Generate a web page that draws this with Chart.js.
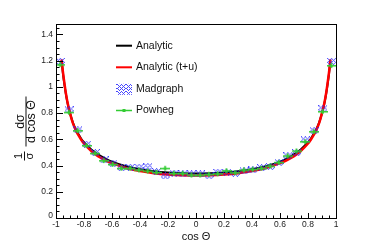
<!DOCTYPE html>
<html><head><meta charset="utf-8">
<script src="https://cdn.jsdelivr.net/npm/chart.js@4/dist/chart.umd.min.js"></script>
<style>html,body{margin:0;padding:0;background:#fff}</style>
</head><body>
<canvas id="c" width="374" height="243"></canvas>
<script>
// bin centres of the 32 histogram bins in cos(theta)
const binCenters = [-0.96875, -0.90625, -0.84375, -0.78125, -0.71875, -0.65625, -0.59375, -0.53125,
  -0.46875, -0.40625, -0.34375, -0.28125, -0.21875, -0.15625, -0.09375, -0.03125,
  0.03125, 0.09375, 0.15625, 0.21875, 0.28125, 0.34375, 0.40625, 0.46875,
  0.53125, 0.59375, 0.65625, 0.71875, 0.78125, 0.84375, 0.90625, 0.96875];
const madgraph = [1.195, 0.825, 0.672, 0.563, 0.499, 0.443, 0.418, 0.384, 0.387, 0.387, 0.392, 0.354, 0.321, 0.341, 0.336, 0.336,
  0.336, 0.323, 0.349, 0.349, 0.341, 0.359, 0.367, 0.384, 0.392, 0.423, 0.474, 0.499, 0.596, 0.667, 0.833, 1.195];
const powheg = [1.17, 0.807, 0.667, 0.553, 0.494, 0.438, 0.41, 0.38, 0.38, 0.367, 0.359, 0.349, 0.38, 0.341, 0.341, 0.328,
  0.328, 0.334, 0.338, 0.361, 0.346, 0.367, 0.372, 0.38, 0.397, 0.425, 0.474, 0.512, 0.583, 0.659, 0.812, 1.163];

// analytic curves
const curveX = [-0.96, -0.95, -0.94, -0.93, -0.92, -0.91, -0.90, -0.88, -0.86, -0.84, -0.82, -0.80, -0.75, -0.70, -0.65, -0.60, -0.50, -0.40, -0.30, -0.20, -0.10,
  0, 0.10, 0.20, 0.30, 0.40, 0.50, 0.60, 0.65, 0.70, 0.75, 0.80, 0.82, 0.84, 0.86, 0.88, 0.90, 0.91, 0.92, 0.93, 0.94, 0.95, 0.96];
const analytic = [1.20, 1.10, 1.02, 0.95, 0.89, 0.84, 0.80, 0.73, 0.68, 0.64, 0.605, 0.578, 0.525, 0.485, 0.455, 0.43, 0.395, 0.372, 0.357, 0.347, 0.341,
  0.339, 0.341, 0.347, 0.357, 0.372, 0.395, 0.43, 0.455, 0.485, 0.525, 0.578, 0.605, 0.64, 0.68, 0.73, 0.80, 0.84, 0.89, 0.95, 1.02, 1.10, 1.20];
const analyticTU = [1.21, 1.11, 1.03, 0.955, 0.895, 0.845, 0.80, 0.725, 0.672, 0.632, 0.597, 0.568, 0.513, 0.472, 0.442, 0.418, 0.382, 0.358, 0.342, 0.332, 0.326,
  0.324, 0.326, 0.332, 0.342, 0.358, 0.382, 0.418, 0.442, 0.472, 0.513, 0.568, 0.597, 0.632, 0.672, 0.725, 0.80, 0.845, 0.895, 0.955, 1.03, 1.11, 1.21];

const xTicks = [-1, -0.8, -0.6, -0.4, -0.2, 0, 0.2, 0.4, 0.6, 0.8, 1];
const xTickLabels = ['-1', '-0.8', '-0.6', '-0.4', '-0.2', '0', '0.2', '0.4', '0.6', '0.8', '1'];
const yTicks = [0, 0.2, 0.4, 0.6, 0.8, 1, 1.2, 1.4];
const yTickLabels = ['0', '0.2', '0.4', '0.6', '0.8', '1', '1.2', '1.4'];

const FONT = '"Liberation Sans", Arial, Helvetica, sans-serif';
const BLUE = '#0000ff';
const GREEN = '#33cc33';

function pts(xs, ys) { return xs.map((x, i) => ({ x: x, y: ys[i] })); }

// crosshatch marker for the Madgraph boxes
function hatchCanvas(w, h) {
  const cv = document.createElement('canvas');
  cv.width = w; cv.height = h;
  const g = cv.getContext('2d');
  g.fillStyle = 'rgba(40,40,255,0.85)';
  for (let y = 0; y < h; y++) {
    for (let x = 0; x < w; x++) {
      if ((x + y) % 4 === 0 || ((x - y) % 4 + 4) % 4 === 0) g.fillRect(x, y, 1, 1);
    }
  }
  return cv;
}

// horizontal error bar + small marker for Powheg
function powhegCanvas() {
  const cv = document.createElement('canvas');
  cv.width = 10; cv.height = 7;
  const g = cv.getContext('2d');
  g.fillStyle = GREEN;
  g.fillRect(0, 3, 10, 1.5);
  g.fillRect(4, 1, 1.5, 5);
  g.fillRect(3.5, 2.5, 2.5, 2.5);
  return cv;
}

const madMarker = hatchCanvas(9, 7);
const powMarker = powhegCanvas();

const rootFrame = {
  id: 'rootFrame',
  afterDraw(chart) {
    const ctx = chart.ctx;
    const a = chart.chartArea;
    const xs = chart.scales.x, ys = chart.scales.y;
    ctx.save();
    ctx.strokeStyle = '#000';
    ctx.lineWidth = 1;
    ctx.strokeRect(Math.round(a.left) + 0.5, Math.round(a.top) + 0.5, Math.round(a.right - a.left), Math.round(a.bottom - a.top));

    // ticks inside the frame
    ctx.beginPath();
    for (let i = 0; i <= 40; i++) {
      const v = -1 + i * 0.05;
      const px = Math.round(xs.getPixelForValue(v)) + 0.5;
      const len = i % 4 === 0 ? 5 : 2.5;
      ctx.moveTo(px, a.bottom);
      ctx.lineTo(px, a.bottom - len);
    }
    for (let i = 0; i <= 29; i++) {
      const v = i * 0.05;
      const py = Math.round(ys.getPixelForValue(v)) + 0.5;
      const len = i % 4 === 0 ? 7 : 3.5;
      ctx.moveTo(a.left, py);
      ctx.lineTo(a.left + len, py);
    }
    ctx.stroke();

    ctx.fillStyle = '#222';
    ctx.font = '8.5px ' + FONT;
    ctx.textAlign = 'center';
    ctx.textBaseline = 'middle';
    xTicks.forEach((v, i) => {
      ctx.fillText(xTickLabels[i], xs.getPixelForValue(v), a.bottom + 7);
    });
    ctx.textAlign = 'right';
    yTicks.forEach((v, i) => {
      const py = ys.getPixelForValue(v);
      ctx.fillText(yTickLabels[i], a.left - 3, i === 0 ? py - 2 : py);
    });

    // x title
    ctx.font = '11px ' + FONT;
    ctx.textAlign = 'center';
    ctx.fillStyle = '#111';
    ctx.fillText('cos \u0398', (a.left + a.right) / 2, 237);

    // y title: 1/sigma dsigma/dcos(theta), rotated
    ctx.save();
    ctx.rotate(-Math.PI / 2);
    ctx.textAlign = 'center';
    ctx.textBaseline = 'middle';
    ctx.font = '11px ' + FONT;
    // small fraction 1/sigma, centre at screen y 156
    ctx.fillText('1', -156, 18.5);
    ctx.fillText('\u03c3', -156, 30);
    ctx.fillRect(-160.5, 24, 9, 1);
    // large fraction dsigma / d cos theta, centre at screen y 121.5
    ctx.font = '12.5px ' + FONT;
    ctx.fillText('d\u03c3', -121.5, 20.5);
    ctx.fillText('d cos \u0398', -121.5, 31.5);
    ctx.fillRect(-146.5, 25.5, 50, 1);
    ctx.restore();

    // legend
    const rows = [45.7, 67.3, 89.3, 110.5];
    const ds = chart.data.datasets;
    ctx.font = '10.5px ' + FONT;
    ctx.textAlign = 'left';
    ctx.textBaseline = 'middle';
    ds.forEach((d, i) => {
      const y = rows[i];
      if (d.legendKind === 'line') {
        ctx.fillStyle = d.borderColor;
        ctx.fillRect(116, y - 1, 16, 2);
      } else if (d.legendKind === 'box') {
        ctx.fillStyle = ctx.createPattern(madMarker, 'repeat');
        ctx.fillRect(116, y - 5.5, 16, 11);
      } else {
        ctx.fillStyle = GREEN;
        ctx.fillRect(116, y - 0.75, 16, 1.5);
        ctx.fillRect(122.5, y - 1.5, 3, 3);
      }
      ctx.fillStyle = '#111';
      ctx.fillText(d.label, 136, y);
    });
    ctx.restore();
  }
};

new Chart(document.getElementById('c'), {
  type: 'scatter',
  data: {
    datasets: [
      { label: 'Analytic', legendKind: 'line', type: 'line', data: pts(curveX, analytic), borderColor: '#000000', borderWidth: 2,
        pointRadius: 0, cubicInterpolationMode: 'monotone', fill: false, order: 3 },
      { label: 'Analytic (t+u)', legendKind: 'line', type: 'line', data: pts(curveX, analyticTU), borderColor: '#ff0000', borderWidth: 2.5,
        pointRadius: 0, cubicInterpolationMode: 'monotone', fill: false, order: 2 },
      { label: 'Madgraph', legendKind: 'box', data: pts(binCenters, madgraph), pointStyle: madMarker, pointRadius: 4, order: 1 },
      { label: 'Powheg', legendKind: 'marker', data: pts(binCenters, powheg), pointStyle: powMarker, pointRadius: 4, order: 0 }
    ]
  },
  options: {
    responsive: false,
    animation: false,
    devicePixelRatio: 1,
    layout: { padding: { left: 56, right: 38, top: 24, bottom: 25 } },
    plugins: { legend: { display: false }, tooltip: { enabled: false } },
    scales: {
      x: { type: 'linear', min: -1, max: 1, display: false },
      y: { type: 'linear', min: 0, max: 1.48, display: false }
    }
  },
  plugins: [rootFrame]
});
</script>
</body></html>
